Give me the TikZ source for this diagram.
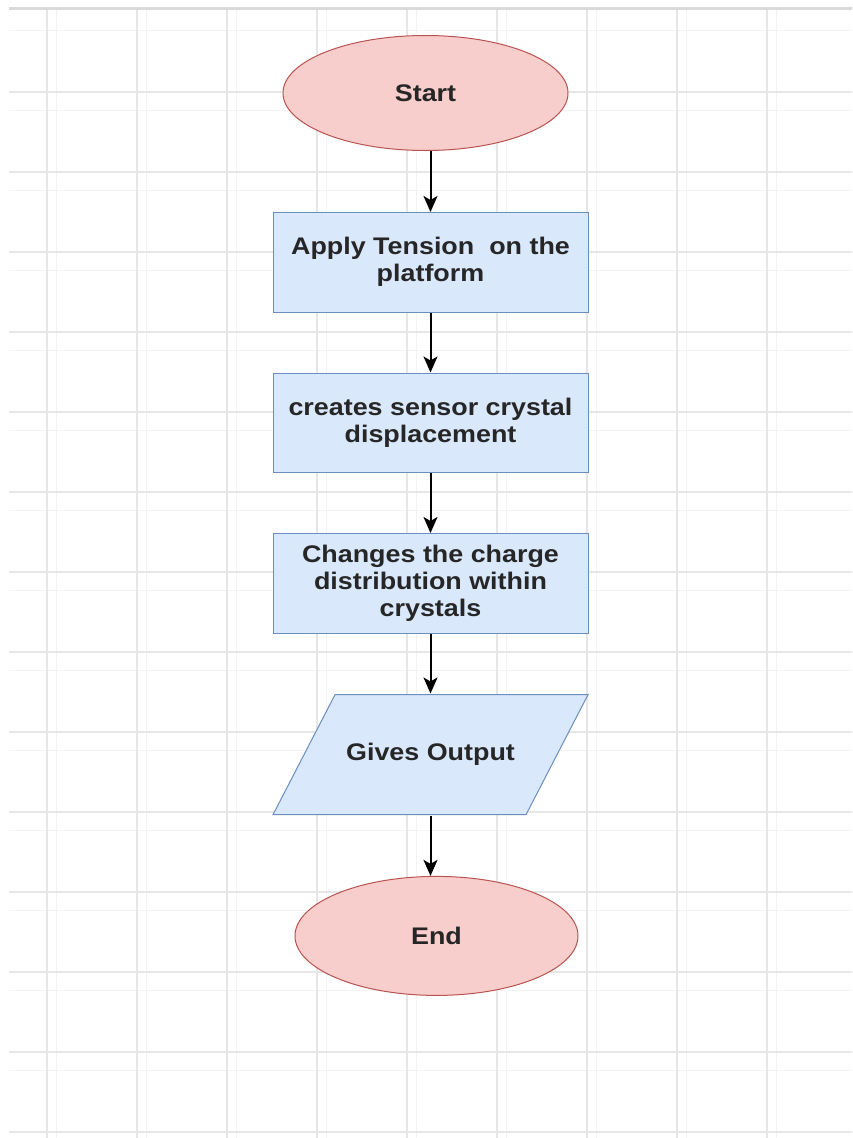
\documentclass[tikz,border=0pt]{standalone}
\usepackage{fontspec}
\setmainfont{Liberation Sans}[FakeStretch=1.12]
\usetikzlibrary{positioning, arrows.meta, shapes.geometric}
\definecolor{termfill}{HTML}{F8CECC}
\definecolor{termline}{HTML}{B85450}
\definecolor{procfill}{HTML}{DAE8FC}
\definecolor{procline}{HTML}{6C8EBF}
\definecolor{gridmajor}{HTML}{E6E6E6}
\definecolor{gridminor}{HTML}{F3F3F3}

\begin{document}
\begin{tikzpicture}[x=1pt, y=1pt, node distance=60pt,
    terminal/.style={ellipse, draw=termline, fill=termfill, line width=1pt, minimum width=285pt, minimum height=115pt, inner sep=0pt},
    process/.style={rectangle, draw=procline, fill=procfill, line width=1pt, minimum width=315pt, minimum height=99.5pt, align=center},
    io/.style={rectangle, minimum width=317pt, minimum height=122pt,
      path picture={\draw[draw=procline, fill=procfill, line width=1pt]
        ([shift={(63pt,-1pt)}]path picture bounding box.north west) -- ([shift={(-1pt,-1pt)}]path picture bounding box.north east)
        -- ([shift={(-63pt,1pt)}]path picture bounding box.south east) -- ([shift={(1pt,1pt)}]path picture bounding box.south west) -- cycle;}},
    arr/.style={-{Stealth[length=16pt, width=14pt, inset=4pt]}, line width=2pt},
    every node/.style={font=\fontsize{24}{27}\selectfont\bfseries, text=black!85}]
            \useasboundingbox (0,0) rectangle (852,-1138);
            % Grid
            \fill[white] (0,0) rectangle (852,-1138);
            \foreach \x in {56,146,...,776} \draw[gridminor, line width=1pt] (\x,-9) -- (\x,-1138);
            \foreach \y in {30,110,...,1070} \draw[gridminor, line width=1pt] (9,-\y) -- (852,-\y);
            \foreach \x in {47,137,...,767} \draw[gridmajor, line width=1.5pt] (\x,-9) -- (\x,-1138);
            \foreach \y in {92,172,...,1132} \draw[gridmajor, line width=1.5pt] (9,-\y) -- (852,-\y);
            \draw[black!15, line width=3pt] (9,-8) -- (852,-8);

            % Nodes
            \node (start) [terminal] at (425.5,-93) {Start};
            \node (apply) [process, below=61pt of start, xshift=5pt] {Apply Tension\ \ on the\\platform};
            \node (sensor) [process, below=of apply] {creates sensor crystal\\displacement};
            \node (charge) [process, below=of sensor] {Changes the charge\\distribution within\\crystals};
            \node (output) [io, below=of charge] {Gives Output};
            \node (end) [terminal, below=of output, xshift=6pt, minimum height=119pt, minimum width=283pt] {End};

            % Arrows
            \draw[arr] (apply |- start.south) -- (apply);
            \draw[arr] (apply) -- (sensor);
            \draw[arr] (sensor) -- (charge);
            \draw[arr] (charge) -- (output);
            \draw[arr] (output) -- (output |- end.north);
\end{tikzpicture}
\end{document}
